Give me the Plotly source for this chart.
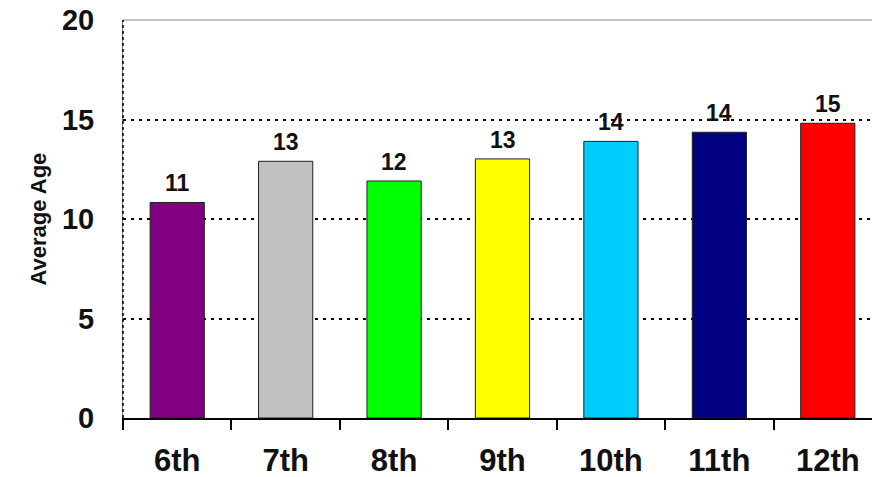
import plotly.graph_objects as go

grades = ["6th", "7th", "8th", "9th", "10th", "11th", "12th"]
avg_age = [10.83, 12.90, 11.91, 13.02, 13.90, 14.36, 14.81]
bar_colors = ["#800080", "#C0C0C0", "#00FF00", "#FFFF00", "#00CCFF", "#000080", "#FF0000"]
y_ticks = [0, 5, 10, 15, 20]

FONT = "Liberation Sans, Arial, Helvetica, sans-serif"

fig = go.Figure()
fig.add_trace(go.Bar(
    x=grades, y=avg_age, width=0.5,
    marker=dict(color=bar_colors, line=dict(color="#222222", width=1)),
    hoverinfo="x+y",
))

for g, v in zip(grades, avg_age):
    fig.add_annotation(x=g, y=v, text=f"{round(v)}", showarrow=False,
                       yanchor="bottom", yshift=4,
                       font=dict(family=FONT, size=23, color="#111111", weight="bold"))

fig.add_annotation(xref="paper", yref="paper", x=-0.1126, y=0.5, text="Average Age",
                   textangle=-90, showarrow=False, xanchor="center", yanchor="middle",
                   font=dict(family=FONT, size=22, color="#111111", weight="bold"))

# plot-area border (top) and dotted left edge
fig.add_shape(type="line", xref="paper", yref="paper", x0=0, x1=1, y0=1, y1=1,
              line=dict(color="#888888", width=1))
fig.add_shape(type="line", xref="paper", yref="paper", x0=0, x1=0, y0=0, y1=1,
              line=dict(color="#000000", width=1.5, dash="3px,3px"))

fig.update_layout(
    width=880, height=477,
    margin=dict(l=115, r=5.5, t=12, b=67, pad=0, autoexpand=False),
    plot_bgcolor="white", paper_bgcolor="white",
    showlegend=False,
    bargap=0.5,
)
fig.update_xaxes(
    range=[-0.5, 6.5], showgrid=False, automargin=False,
    showline=True, linecolor="#000000", linewidth=1.5,
    ticks="outside", tickson="boundaries", ticklen=10, tickcolor="#000000", tickwidth=1.5,
    ticklabelstandoff=14, ticklabeloverflow="allow",
    tickfont=dict(family=FONT, size=31, color="#111111", weight="bold"),
)
fig.update_yaxes(
    range=[0, 20], tickvals=y_ticks, ticktext=[str(t) for t in y_ticks],
    showgrid=True, gridcolor="#000000", gridwidth=2, griddash="3px,5px",
    zeroline=False, automargin=False,
    showline=True, linecolor="#777777", linewidth=1,
    ticks="", ticklabelstandoff=22, ticklabeloverflow="allow",
    tickfont=dict(family=FONT, size=29, color="#111111", weight="bold"),
)

fig.write_html("out.html")
